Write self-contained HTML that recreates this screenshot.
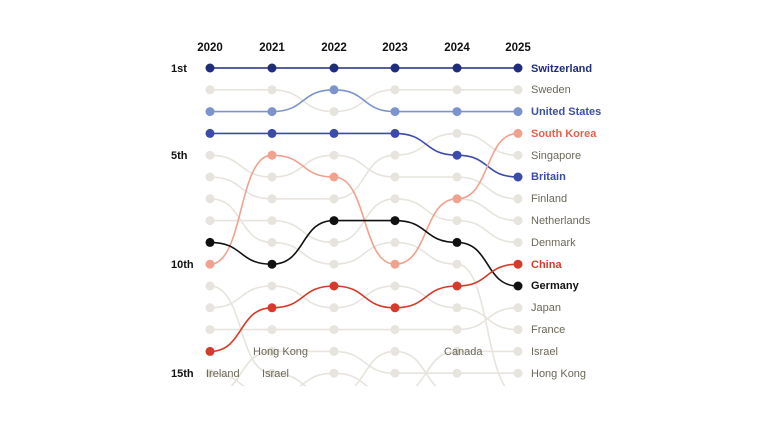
<!DOCTYPE html>
<html><head><meta charset="utf-8"><style>
body{margin:0;background:#fff;width:764px;height:429px;overflow:hidden}
svg{display:block;font-family:"Liberation Sans",sans-serif}
</style></head><body>
<svg id="s" width="764" height="429" viewBox="0 0 764 429">
<defs><clipPath id="c"><rect x="0" y="0" width="764" height="386"/></clipPath></defs>
<g font-weight="bold" font-size="11.5" fill="#111" text-anchor="middle">
<text x="210" y="51">2020</text><text x="272" y="51">2021</text><text x="334" y="51">2022</text>
<text x="395" y="51">2023</text><text x="457" y="51">2024</text><text x="518" y="51">2025</text>
</g>
<g font-weight="bold" font-size="11" fill="#111">
<text x="171" y="72">1st</text><text x="171" y="159">5th</text><text x="171" y="268">10th</text><text x="171" y="377">15th</text>
</g>
<g id="g" clip-path="url(#c)"></g>
<g font-size="11" fill="#6b6858">
<text x="531" y="93">Sweden</text><text x="531" y="159">Singapore</text><text x="531" y="202">Finland</text>
<text x="531" y="224">Netherlands</text><text x="531" y="246">Denmark</text><text x="531" y="311">Japan</text>
<text x="531" y="333">France</text><text x="531" y="355">Israel</text><text x="531" y="377">Hong Kong</text>
<text x="253" y="355">Hong Kong</text><text x="444" y="355">Canada</text>
<text x="206" y="377">Ireland</text><text x="262" y="377">Israel</text>
</g>
<g font-size="11" font-weight="bold">
<text x="531" y="72" fill="#1f2d7a">Switzerland</text>
<text x="531" y="115" fill="#3e4fa6">United States</text>
<text x="531" y="137" fill="#e8604c">South Korea</text>
<text x="531" y="180" fill="#3a4ba8">Britain</text>
<text x="531" y="268" fill="#d63a2a">China</text>
<text x="531" y="289" fill="#111">Germany</text>
</g>
</svg>
<script>
const X=[210,272,334,395,457,518];
const Y=r=>68+(r-1)*21.8;
const g=document.getElementById('g');
const NS='http://www.w3.org/2000/svg';
function seg(x1,r1,x2,r2,col,w){const p=document.createElementNS(NS,'path');const y1=Y(r1),y2=Y(r2),dx=x2-x1;
p.setAttribute('d',`M${x1} ${y1} C${x1+dx*0.55} ${y1} ${x2-dx*0.55} ${y2} ${x2} ${y2}`);
p.setAttribute('fill','none');p.setAttribute('stroke',col);p.setAttribute('stroke-width',w);g.appendChild(p);}
function dot(x,r,col){const c=document.createElementNS(NS,'circle');c.setAttribute('cx',x);c.setAttribute('cy',Y(r));c.setAttribute('r',4.5);c.setAttribute('fill',col);g.appendChild(c);}
const grey='#e6e4dc';
const pairs=[
[[2,2],[5,6],[6,7],[7,9],[8,8],[11,15],[12,11],[13,13],[15,16],[16,14]],
[[2,3],[6,5],[7,7],[8,9],[9,10],[11,12],[13,13],[14,14],[15,16],[16,15]],
[[3,2],[5,6],[7,5],[9,7],[10,9],[12,11],[13,13],[14,15],[15,16],[16,14]],
[[2,2],[5,4],[6,6],[7,8],[9,10],[11,12],[13,13],[14,16],[15,15],[16,14]],
[[2,2],[4,5],[6,7],[7,8],[8,9],[10,16],[12,13],[13,12],[14,14],[15,15],[16,16]]];
pairs.forEach((ps,i)=>ps.forEach(([a,b])=>seg(X[i],a,X[i+1],b,grey,1.6)));
const hl={};
const series=[
[[1,1,1,1,1,1],'#1f2d7a'],[[3,3,2,3,3,3],'#7c93cc'],[[4,4,4,4,5,6],'#3a4ba8'],
[[10,5,6,10,7,4],'#f0a28e'],[[9,10,8,8,9,11],'#111'],[[14,12,11,12,11,10],'#d63a2a']];
series.forEach(([r,c])=>r.forEach((v,i)=>{hl[i+','+v]=1;}));
for(let i=0;i<6;i++)for(let r=2;r<=15;r++)if(!hl[i+','+r])dot(X[i],r,grey);
series.forEach(([r,c])=>{for(let i=0;i<5;i++)seg(X[i],r[i],X[i+1],r[i+1],c,1.6);r.forEach((v,i)=>dot(X[i],v,c));});
</script>
</body></html>
